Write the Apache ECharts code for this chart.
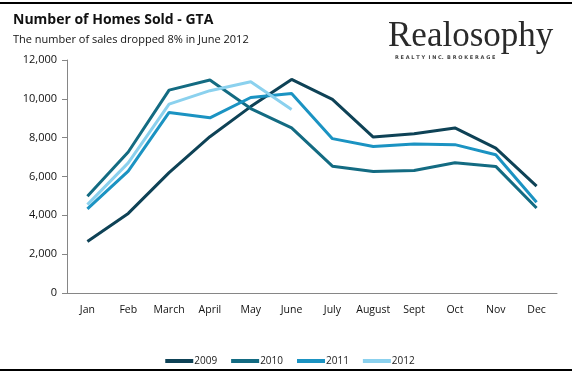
<!DOCTYPE html>
<html><head><meta charset="utf-8">
<script src="https://cdn.jsdelivr.net/npm/echarts@6/dist/echarts.min.js"></script>
<style>html,body{margin:0;padding:0;background:#fff}#c{width:580px;height:379px}</style>
</head><body><div id="c"></div>
<script>
const months = ["Jan","Feb","March","April","May","June","July","August","Sept","Oct","Nov","Dec"];
const s2009 = [2650,4100,6200,8050,9600,11000,9970,8030,8200,8500,7460,5500];
const s2010 = [4980,7260,10450,10970,9500,8500,6530,6260,6310,6710,6520,4380];
const s2011 = [4330,6280,9300,9020,10070,10280,7950,7550,7670,7640,7120,4670];
const s2012 = [4550,6700,9730,10420,10880,9450];
const yTicks = [0,2000,4000,6000,8000,10000,12000];
const seriesNames = ["2009","2010","2011","2012"];
const colors = ["#0e4256","#136b82","#1b93c2","#8bd1ee"];

const chart = echarts.init(document.getElementById('c'));
const font = "'Open Sans', 'Liberation Sans', sans-serif";
chart.setOption({
  animation:false,
  color:colors,
  title:[
    {text:"Number of Homes Sold - GTA", left:8, top:8, textStyle:{fontFamily:font,fontSize:14,fontWeight:'bold',color:'#111'}},
    {text:"The number of sales dropped 8% in June 2012", left:8, top:29, textStyle:{fontFamily:font,fontSize:11,fontWeight:'normal',color:'#111'}}
  ],
  graphic:[
    {type:'line', shape:{x1:0,y1:3,x2:572,y2:3}, style:{stroke:'#000',lineWidth:2}},
    {type:'line', shape:{x1:0,y1:370,x2:572,y2:370}, style:{stroke:'#000',lineWidth:2}},
    {type:'text', left:388, top:19, style:{text:'Realosophy', font:"35px 'Liberation Serif', 'DejaVu Serif', serif", fill:'#2a2a2a'}},
    {type:'text', left:395, top:55, style:{text:'R E A L T Y  I N C.  B R O K E R A G E', font:"bold 5px 'DejaVu Sans', sans-serif", fill:'#444'}}
  ],
  legend:{
    data:seriesNames, left:'center', top:351, itemWidth:28, itemHeight:4, itemGap:14,
    icon:'rect',
    textStyle:{fontFamily:font,fontSize:10,color:'#222',padding:[0,0,0,-4]}
  },
  grid:{left:67, right:23, top:60, bottom:86, containLabel:false},
  xAxis:{
    type:'category', data:months, boundaryGap:true,
    axisLine:{lineStyle:{color:'#868686'}}, axisTick:{show:false},
    axisLabel:{fontFamily:font,fontSize:10.5,color:'#111',margin:12,interval:0}
  },
  yAxis:{
    type:'value', min:0, max:12000, interval:2000,
    axisLine:{show:true,lineStyle:{color:'#868686'}},
    axisTick:{show:true,length:5,lineStyle:{color:'#868686'}},
    splitLine:{show:false},
    axisLabel:{fontFamily:font,fontSize:11,color:'#111',margin:10,
      formatter:v=>yTicks.includes(v)?v.toLocaleString('en-US'):''}
  },
  series:[
    {name:"2009",type:'line',data:s2009,symbol:'none',lineStyle:{width:3}},
    {name:"2010",type:'line',data:s2010,symbol:'none',lineStyle:{width:3}},
    {name:"2011",type:'line',data:s2011,symbol:'none',lineStyle:{width:3}},
    {name:"2012",type:'line',data:s2012,symbol:'none',lineStyle:{width:3}}
  ]
});
</script></body></html>
